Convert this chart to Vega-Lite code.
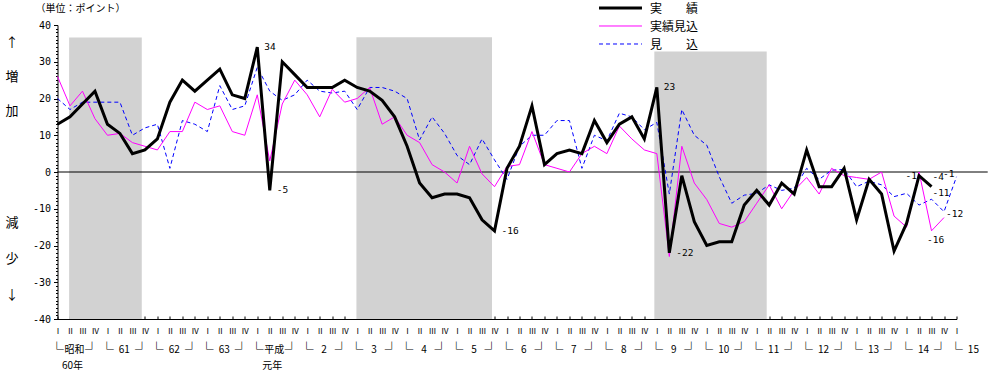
{
  "$schema": "https://vega.github.io/schema/vega-lite/v6.json",
  "width": 899,
  "height": 294,
  "autosize": {"type": "none"},
  "padding": {"left": 57.5, "top": 25, "right": 34.5, "bottom": 53},
  "config": {
    "view": {"stroke": null},
    "axis": {"domainColor": "black", "tickColor": "black", "labelColor": "black", "titleColor": "black", "grid": false, "labelOverlap": false, "labelBound": false, "labelFlush": false}
  },
  "datasets": {
    "series": [
      {"q":0,"s":"実績","v":13},{"q":1,"s":"実績","v":15},{"q":2,"s":"実績","v":18.5},{"q":3,"s":"実績","v":22},{"q":4,"s":"実績","v":13},{"q":5,"s":"実績","v":10.5},{"q":6,"s":"実績","v":5},{"q":7,"s":"実績","v":6},{"q":8,"s":"実績","v":9},{"q":9,"s":"実績","v":19},{"q":10,"s":"実績","v":25},{"q":11,"s":"実績","v":22},{"q":12,"s":"実績","v":25},{"q":13,"s":"実績","v":28},{"q":14,"s":"実績","v":21},{"q":15,"s":"実績","v":20},{"q":16,"s":"実績","v":34},{"q":17,"s":"実績","v":-5},{"q":18,"s":"実績","v":30},{"q":19,"s":"実績","v":26.5},{"q":20,"s":"実績","v":23},{"q":21,"s":"実績","v":23},{"q":22,"s":"実績","v":23},{"q":23,"s":"実績","v":25},{"q":24,"s":"実績","v":23},{"q":25,"s":"実績","v":22},{"q":26,"s":"実績","v":19.5},{"q":27,"s":"実績","v":15},{"q":28,"s":"実績","v":7},{"q":29,"s":"実績","v":-3},{"q":30,"s":"実績","v":-7},{"q":31,"s":"実績","v":-6},{"q":32,"s":"実績","v":-6},{"q":33,"s":"実績","v":-7},{"q":34,"s":"実績","v":-13},{"q":35,"s":"実績","v":-16},{"q":36,"s":"実績","v":1},{"q":37,"s":"実績","v":7},{"q":38,"s":"実績","v":18},{"q":39,"s":"実績","v":2},{"q":40,"s":"実績","v":5},{"q":41,"s":"実績","v":6},{"q":42,"s":"実績","v":5},{"q":43,"s":"実績","v":14},{"q":44,"s":"実績","v":8},{"q":45,"s":"実績","v":13},{"q":46,"s":"実績","v":15},{"q":47,"s":"実績","v":9},{"q":48,"s":"実績","v":23},{"q":49,"s":"実績","v":-22},{"q":50,"s":"実績","v":-1},{"q":51,"s":"実績","v":-13.5},{"q":52,"s":"実績","v":-20},{"q":53,"s":"実績","v":-19},{"q":54,"s":"実績","v":-19},{"q":55,"s":"実績","v":-9},{"q":56,"s":"実績","v":-5},{"q":57,"s":"実績","v":-9},{"q":58,"s":"実績","v":-3},{"q":59,"s":"実績","v":-6},{"q":60,"s":"実績","v":6},{"q":61,"s":"実績","v":-4},{"q":62,"s":"実績","v":-4},{"q":63,"s":"実績","v":1},{"q":64,"s":"実績","v":-13},{"q":65,"s":"実績","v":-2},{"q":66,"s":"実績","v":-6},{"q":67,"s":"実績","v":-21.5},{"q":68,"s":"実績","v":-14},{"q":69,"s":"実績","v":-1},{"q":70,"s":"実績","v":-4},
      {"q":0,"s":"実績見込","v":26},{"q":1,"s":"実績見込","v":18},{"q":2,"s":"実績見込","v":22},{"q":3,"s":"実績見込","v":14.5},{"q":4,"s":"実績見込","v":10},{"q":5,"s":"実績見込","v":10.5},{"q":6,"s":"実績見込","v":8},{"q":7,"s":"実績見込","v":7},{"q":8,"s":"実績見込","v":6},{"q":9,"s":"実績見込","v":11},{"q":10,"s":"実績見込","v":11},{"q":11,"s":"実績見込","v":19},{"q":12,"s":"実績見込","v":17},{"q":13,"s":"実績見込","v":18},{"q":14,"s":"実績見込","v":11},{"q":15,"s":"実績見込","v":10},{"q":16,"s":"実績見込","v":21},{"q":17,"s":"実績見込","v":3},{"q":18,"s":"実績見込","v":18.5},{"q":19,"s":"実績見込","v":25},{"q":20,"s":"実績見込","v":21},{"q":21,"s":"実績見込","v":15},{"q":22,"s":"実績見込","v":22.5},{"q":23,"s":"実績見込","v":19},{"q":24,"s":"実績見込","v":20},{"q":25,"s":"実績見込","v":23},{"q":26,"s":"実績見込","v":13},{"q":27,"s":"実績見込","v":15},{"q":28,"s":"実績見込","v":10},{"q":29,"s":"実績見込","v":8},{"q":30,"s":"実績見込","v":2},{"q":31,"s":"実績見込","v":0},{"q":32,"s":"実績見込","v":-3},{"q":33,"s":"実績見込","v":7},{"q":34,"s":"実績見込","v":-0.5},{"q":35,"s":"実績見込","v":-4},{"q":36,"s":"実績見込","v":1.5},{"q":37,"s":"実績見込","v":2},{"q":38,"s":"実績見込","v":11},{"q":39,"s":"実績見込","v":2},{"q":40,"s":"実績見込","v":1},{"q":41,"s":"実績見込","v":0},{"q":42,"s":"実績見込","v":5},{"q":43,"s":"実績見込","v":7},{"q":44,"s":"実績見込","v":5},{"q":45,"s":"実績見込","v":12.5},{"q":46,"s":"実績見込","v":9},{"q":47,"s":"実績見込","v":6},{"q":48,"s":"実績見込","v":5},{"q":49,"s":"実績見込","v":-23},{"q":50,"s":"実績見込","v":7},{"q":51,"s":"実績見込","v":-3},{"q":52,"s":"実績見込","v":-7.5},{"q":53,"s":"実績見込","v":-14},{"q":54,"s":"実績見込","v":-15},{"q":55,"s":"実績見込","v":-13.5},{"q":56,"s":"実績見込","v":-8.5},{"q":57,"s":"実績見込","v":-3.5},{"q":58,"s":"実績見込","v":-10},{"q":59,"s":"実績見込","v":-5},{"q":60,"s":"実績見込","v":-1.5},{"q":61,"s":"実績見込","v":-6},{"q":62,"s":"実績見込","v":1},{"q":63,"s":"実績見込","v":-1},{"q":64,"s":"実績見込","v":-1.5},{"q":65,"s":"実績見込","v":-2},{"q":66,"s":"実績見込","v":0},{"q":67,"s":"実績見込","v":-12},{"q":68,"s":"実績見込","v":-15},{"q":69,"s":"実績見込","v":0},{"q":70,"s":"実績見込","v":-16},{"q":71,"s":"実績見込","v":-12.4},
      {"q":0,"s":"見込","v":20},{"q":1,"s":"見込","v":17},{"q":2,"s":"見込","v":19},{"q":3,"s":"見込","v":19},{"q":4,"s":"見込","v":19},{"q":5,"s":"見込","v":19},{"q":6,"s":"見込","v":10},{"q":7,"s":"見込","v":12},{"q":8,"s":"見込","v":13},{"q":9,"s":"見込","v":1},{"q":10,"s":"見込","v":14},{"q":11,"s":"見込","v":13},{"q":12,"s":"見込","v":11},{"q":13,"s":"見込","v":23.5},{"q":14,"s":"見込","v":17},{"q":15,"s":"見込","v":18},{"q":16,"s":"見込","v":28.5},{"q":17,"s":"見込","v":22},{"q":18,"s":"見込","v":19.5},{"q":19,"s":"見込","v":21},{"q":20,"s":"見込","v":25},{"q":21,"s":"見込","v":22},{"q":22,"s":"見込","v":21.5},{"q":23,"s":"見込","v":22},{"q":24,"s":"見込","v":17},{"q":25,"s":"見込","v":23},{"q":26,"s":"見込","v":23},{"q":27,"s":"見込","v":22},{"q":28,"s":"見込","v":20},{"q":29,"s":"見込","v":8.7},{"q":30,"s":"見込","v":15},{"q":31,"s":"見込","v":10.5},{"q":32,"s":"見込","v":4.5},{"q":33,"s":"見込","v":2},{"q":34,"s":"見込","v":9},{"q":35,"s":"見込","v":3.3},{"q":36,"s":"見込","v":-2},{"q":37,"s":"見込","v":7},{"q":38,"s":"見込","v":10},{"q":39,"s":"見込","v":10},{"q":40,"s":"見込","v":14},{"q":41,"s":"見込","v":14},{"q":42,"s":"見込","v":1},{"q":43,"s":"見込","v":10},{"q":44,"s":"見込","v":8.5},{"q":45,"s":"見込","v":16},{"q":46,"s":"見込","v":15},{"q":47,"s":"見込","v":11.5},{"q":48,"s":"見込","v":13.5},{"q":49,"s":"見込","v":-6},{"q":50,"s":"見込","v":17},{"q":51,"s":"見込","v":10},{"q":52,"s":"見込","v":7.3},{"q":53,"s":"見込","v":-1.3},{"q":54,"s":"見込","v":-8.5},{"q":55,"s":"見込","v":-6.3},{"q":56,"s":"見込","v":-5.8},{"q":57,"s":"見込","v":-3.5},{"q":58,"s":"見込","v":-5},{"q":59,"s":"見込","v":-4.4},{"q":60,"s":"見込","v":1},{"q":61,"s":"見込","v":-2},{"q":62,"s":"見込","v":0.5},{"q":63,"s":"見込","v":0.7},{"q":64,"s":"見込","v":-4},{"q":65,"s":"見込","v":-2.5},{"q":66,"s":"見込","v":-3.5},{"q":67,"s":"見込","v":-6.7},{"q":68,"s":"見込","v":-5.8},{"q":69,"s":"見込","v":-9},{"q":70,"s":"見込","v":-7.4},{"q":71,"s":"見込","v":-10.8},{"q":72,"s":"見込","v":-1.3}
    ],
    "shade": [
      {"s": 0.93, "e": 6.75, "top": 36.6},
      {"s": 23.94, "e": 34.8, "top": 36.7},
      {"s": 47.8, "e": 56.8, "top": 32.8}
    ],
    "years": [
      {"q":0,"t":"昭和","sub":"60年"},{"q":4,"t":"61"},{"q":8,"t":"62"},{"q":12,"t":"63"},{"q":16,"t":"平成","sub":"元年"},{"q":20,"t":"2"},{"q":24,"t":"3"},{"q":28,"t":"4"},{"q":32,"t":"5"},{"q":36,"t":"6"},{"q":40,"t":"7"},{"q":44,"t":"8"},{"q":48,"t":"9"},{"q":52,"t":"10"},{"q":56,"t":"11"},{"q":60,"t":"12"},{"q":64,"t":"13"},{"q":68,"t":"14"},{"q":72,"t":"15"}
    ]
  },
  "layer": [
    {
      "data": {"name": "shade"},
      "mark": {"type": "rect", "fill": "#d2d2d2"},
      "encoding": {
        "x": {"field": "s", "type": "quantitative", "scale": {"domain": [0, 72], "nice": false, "zero": false},
          "axis": {
            "values": [0,1,2,3,4,5,6,7,8,9,10,11,12,13,14,15,16,17,18,19,20,21,22,23,24,25,26,27,28,29,30,31,32,33,34,35,36,37,38,39,40,41,42,43,44,45,46,47,48,49,50,51,52,53,54,55,56,57,58,59,60,61,62,63,64,65,66,67,68,69,70,71,72],
            "tickCount": 200,
            "labelExpr": "datum.value % 4 === 0 ? 'Ⅰ' : datum.value % 4 === 1 ? 'Ⅱ' : datum.value % 4 === 2 ? 'Ⅲ' : 'Ⅳ'",
            "labelFont": "Noto Sans CJK JP", "labelFontSize": 8, "labelBaseline": "middle",
            "tickSize": -3, "labelPadding": 15, "labelOverlap": false, "labelFlush": false, "labelBound": false,
            "title": null
          }
        },
        "x2": {"field": "e"},
        "y": {"field": "top", "type": "quantitative", "scale": {"domain": [-40, 40], "nice": false, "zero": false},
          "axis": {
            "values": [-40,-39,-38,-37,-36,-35,-34,-33,-32,-31,-30,-29,-28,-27,-26,-25,-24,-23,-22,-21,-20,-19,-18,-17,-16,-15,-14,-13,-12,-11,-10,-9,-8,-7,-6,-5,-4,-3,-2,-1,0,1,2,3,4,5,6,7,8,9,10,11,12,13,14,15,16,17,18,19,20,21,22,23,24,25,26,27,28,29,30,31,32,33,34,35,36,37,38,39,40],
            "tickCount": 200,
            "labelExpr": "datum.value % 10 === 0 ? '' + datum.value : ''",
            "tickSize": {"condition": {"test": "datum.value % 10 === 0", "value": 4}, "value": 2},
            "labelFont": "DejaVu Sans Mono", "labelFontSize": 10, "labelPadding": 3,
            "labelOverlap": false, "labelFlush": false, "labelBound": false,
            "title": "（単位：ポイント）", "titleFont": "Noto Sans CJK JP", "titleFontSize": 10, "titleFontWeight": "normal",
            "titleAngle": 0, "titleAlign": "left", "titleBaseline": "middle", "titleX": -22.5, "titleY": -17
          }
        },
        "y2": {"datum": -40}
      }
    },
    {
      "data": {"values": [{}]},
      "mark": {"type": "rule", "color": "black", "strokeWidth": 1},
      "encoding": {
        "x": {"datum": 0, "type": "quantitative", "scale": {"domain": [0, 72], "nice": false, "zero": false}},
        "x2": {"datum": 74.5},
        "y": {"datum": 0, "type": "quantitative", "scale": {"domain": [-40, 40], "nice": false, "zero": false}}
      }
    },
    {
      "data": {"name": "series"},
      "transform": [{"filter": "datum.s === '見込'"}],
      "mark": {"type": "line", "color": "#0000ff", "strokeWidth": 1, "strokeDash": [4, 3]},
      "encoding": {
        "x": {"field": "q", "type": "quantitative", "scale": {"domain": [0, 72], "nice": false, "zero": false}},
        "y": {"field": "v", "type": "quantitative", "scale": {"domain": [-40, 40], "nice": false, "zero": false}}
      }
    },
    {
      "data": {"name": "series"},
      "transform": [{"filter": "datum.s === '実績見込'"}],
      "mark": {"type": "line", "color": "#ff00ff", "strokeWidth": 1},
      "encoding": {
        "x": {"field": "q", "type": "quantitative", "scale": {"domain": [0, 72], "nice": false, "zero": false}},
        "y": {"field": "v", "type": "quantitative", "scale": {"domain": [-40, 40], "nice": false, "zero": false}}
      }
    },
    {
      "data": {"name": "series"},
      "transform": [{"filter": "datum.s === '実績'"}],
      "mark": {"type": "line", "color": "#000000", "strokeWidth": 3},
      "encoding": {
        "x": {"field": "q", "type": "quantitative", "scale": {"domain": [0, 72], "nice": false, "zero": false}},
        "y": {"field": "v", "type": "quantitative", "scale": {"domain": [-40, 40], "nice": false, "zero": false}}
      }
    },
    {
      "data": {"values": [{}]},
      "mark": {"type": "rule", "color": "#000000", "strokeWidth": 3},
      "encoding": {
        "x": {"datum": 43.37, "type": "quantitative"},
        "x2": {"datum": 46.81},
        "y": {"datum": 44.63, "type": "quantitative"}
      }
    },
    {
      "data": {"values": [{}]},
      "mark": {"type": "rule", "color": "#ff00ff", "strokeWidth": 1},
      "encoding": {
        "x": {"datum": 43.37, "type": "quantitative"},
        "x2": {"datum": 46.81},
        "y": {"datum": 39.73, "type": "quantitative"}
      }
    },
    {
      "data": {"values": [{}]},
      "mark": {"type": "rule", "color": "#0000ff", "strokeWidth": 1, "strokeDash": [4, 3]},
      "encoding": {
        "x": {"datum": 43.37, "type": "quantitative"},
        "x2": {"datum": 46.81},
        "y": {"datum": 34.83, "type": "quantitative"}
      }
    },
    {
      "data": {"values": [{}]},
      "mark": {"type": "text", "align": "left", "baseline": "middle", "font": "Noto Sans CJK JP", "fontSize": 12, "lineHeight": 18, "color": "black"},
      "encoding": {
        "x": {"datum": 47.45, "type": "quantitative"},
        "y": {"datum": 44.4, "type": "quantitative"},
        "text": {"value": ["実　　績", "実績見込", "見　　込"]}
      }
    },
    {
      "data": {"values": [{}]},
      "mark": {"type": "text", "align": "center", "baseline": "middle", "font": "Noto Sans CJK JP", "fontSize": 13, "lineHeight": 34, "color": "black"},
      "encoding": {
        "x": {"datum": -3.65, "type": "quantitative"},
        "y": {"datum": 35.2, "type": "quantitative"},
        "text": {"value": ["↑", "増", "加"]}
      }
    },
    {
      "data": {"values": [{}]},
      "mark": {"type": "text", "align": "center", "baseline": "middle", "font": "Noto Sans CJK JP", "fontSize": 13, "lineHeight": 36, "color": "black"},
      "encoding": {
        "x": {"datum": -3.65, "type": "quantitative"},
        "y": {"datum": -13.9, "type": "quantitative"},
        "text": {"value": ["減", "少", "↓"]}
      }
    },
    {
      "data": {"values": [{"q":16,"v":34,"t":"34"},{"q":17,"v":-5,"t":"-5"},{"q":35,"v":-16,"t":"-16"},{"q":48,"v":23,"t":"23"},{"q":49,"v":-22,"t":"-22"}]},
      "mark": {"type": "text", "align": "left", "baseline": "middle", "dx": 7, "font": "DejaVu Sans Mono", "fontSize": 9.5, "color": "black"},
      "encoding": {
        "x": {"field": "q", "type": "quantitative"},
        "y": {"field": "v", "type": "quantitative"},
        "text": {"field": "t"}
      }
    },
    {
      "data": {"values": [{"q":69,"v":-1,"t":"-1"}]},
      "mark": {"type": "text", "align": "right", "baseline": "middle", "dx": -2, "dy": 0, "font": "DejaVu Sans Mono", "fontSize": 9.5, "color": "black"},
      "encoding": {
        "x": {"field": "q", "type": "quantitative"},
        "y": {"field": "v", "type": "quantitative"},
        "text": {"field": "t"}
      }
    },
    {
      "data": {"values": [{"q":70,"v":-4,"t":"-4"}]},
      "mark": {"type": "text", "align": "left", "baseline": "middle", "dx": 1, "dy": -10, "font": "DejaVu Sans Mono", "fontSize": 9.5, "color": "black"},
      "encoding": {
        "x": {"field": "q", "type": "quantitative"},
        "y": {"field": "v", "type": "quantitative"},
        "text": {"field": "t"}
      }
    },
    {
      "data": {"values": [{"q":72,"v":-1.3,"t":"-1"}]},
      "mark": {"type": "text", "align": "right", "baseline": "middle", "dx": -2, "dy": -3, "font": "DejaVu Sans Mono", "fontSize": 9.5, "color": "black"},
      "encoding": {
        "x": {"field": "q", "type": "quantitative"},
        "y": {"field": "v", "type": "quantitative"},
        "text": {"field": "t"}
      }
    },
    {
      "data": {"values": [{"q":71,"v":-10.8,"t":"-11"}]},
      "mark": {"type": "text", "align": "center", "baseline": "middle", "dx": -3, "dy": -19, "font": "DejaVu Sans Mono", "fontSize": 9.5, "color": "black"},
      "encoding": {
        "x": {"field": "q", "type": "quantitative"},
        "y": {"field": "v", "type": "quantitative"},
        "text": {"field": "t"}
      }
    },
    {
      "data": {"values": [{"q":71,"v":-12.4,"t":"-12"}]},
      "mark": {"type": "text", "align": "left", "baseline": "middle", "dx": 2, "dy": -4, "font": "DejaVu Sans Mono", "fontSize": 9.5, "color": "black"},
      "encoding": {
        "x": {"field": "q", "type": "quantitative"},
        "y": {"field": "v", "type": "quantitative"},
        "text": {"field": "t"}
      }
    },
    {
      "data": {"values": [{"q":70,"v":-16,"t":"-16"}]},
      "mark": {"type": "text", "align": "center", "baseline": "middle", "dx": 4, "dy": 9, "font": "DejaVu Sans Mono", "fontSize": 9.5, "color": "black"},
      "encoding": {
        "x": {"field": "q", "type": "quantitative"},
        "y": {"field": "v", "type": "quantitative"},
        "text": {"field": "t"}
      }
    },
    {
      "data": {"name": "years"},
      "mark": {"type": "text", "align": "center", "baseline": "middle", "dx": -0.8, "font": "Noto Sans CJK JP", "fontSize": 14, "color": "black"},
      "encoding": {
        "x": {"field": "q", "type": "quantitative"},
        "y": {"datum": -48.4, "type": "quantitative"},
        "text": {"value": "└"}
      }
    },
    {
      "data": {"name": "years"},
      "transform": [{"filter": "datum.q < 72"}],
      "mark": {"type": "text", "align": "center", "baseline": "middle", "dx": 34.5, "font": "Noto Sans CJK JP", "fontSize": 14, "color": "black"},
      "encoding": {
        "x": {"field": "q", "type": "quantitative"},
        "y": {"datum": -48.4, "type": "quantitative"},
        "text": {"value": "┘"}
      }
    },
    {
      "data": {"name": "years"},
      "mark": {"type": "text", "align": "center", "baseline": "middle", "dx": 16.9, "font": "Noto Sans CJK JP", "fontSize": 10, "color": "black"},
      "encoding": {
        "x": {"field": "q", "type": "quantitative"},
        "y": {"datum": -48.4, "type": "quantitative"},
        "text": {"field": "t"}
      }
    },
    {
      "data": {"name": "years"},
      "transform": [{"filter": "isValid(datum.sub)"}],
      "mark": {"type": "text", "align": "center", "baseline": "middle", "dx": 15, "font": "Noto Sans CJK JP", "fontSize": 10, "color": "black"},
      "encoding": {
        "x": {"field": "q", "type": "quantitative"},
        "y": {"datum": -52.8, "type": "quantitative"},
        "text": {"field": "sub"}
      }
    }
  ]
}
